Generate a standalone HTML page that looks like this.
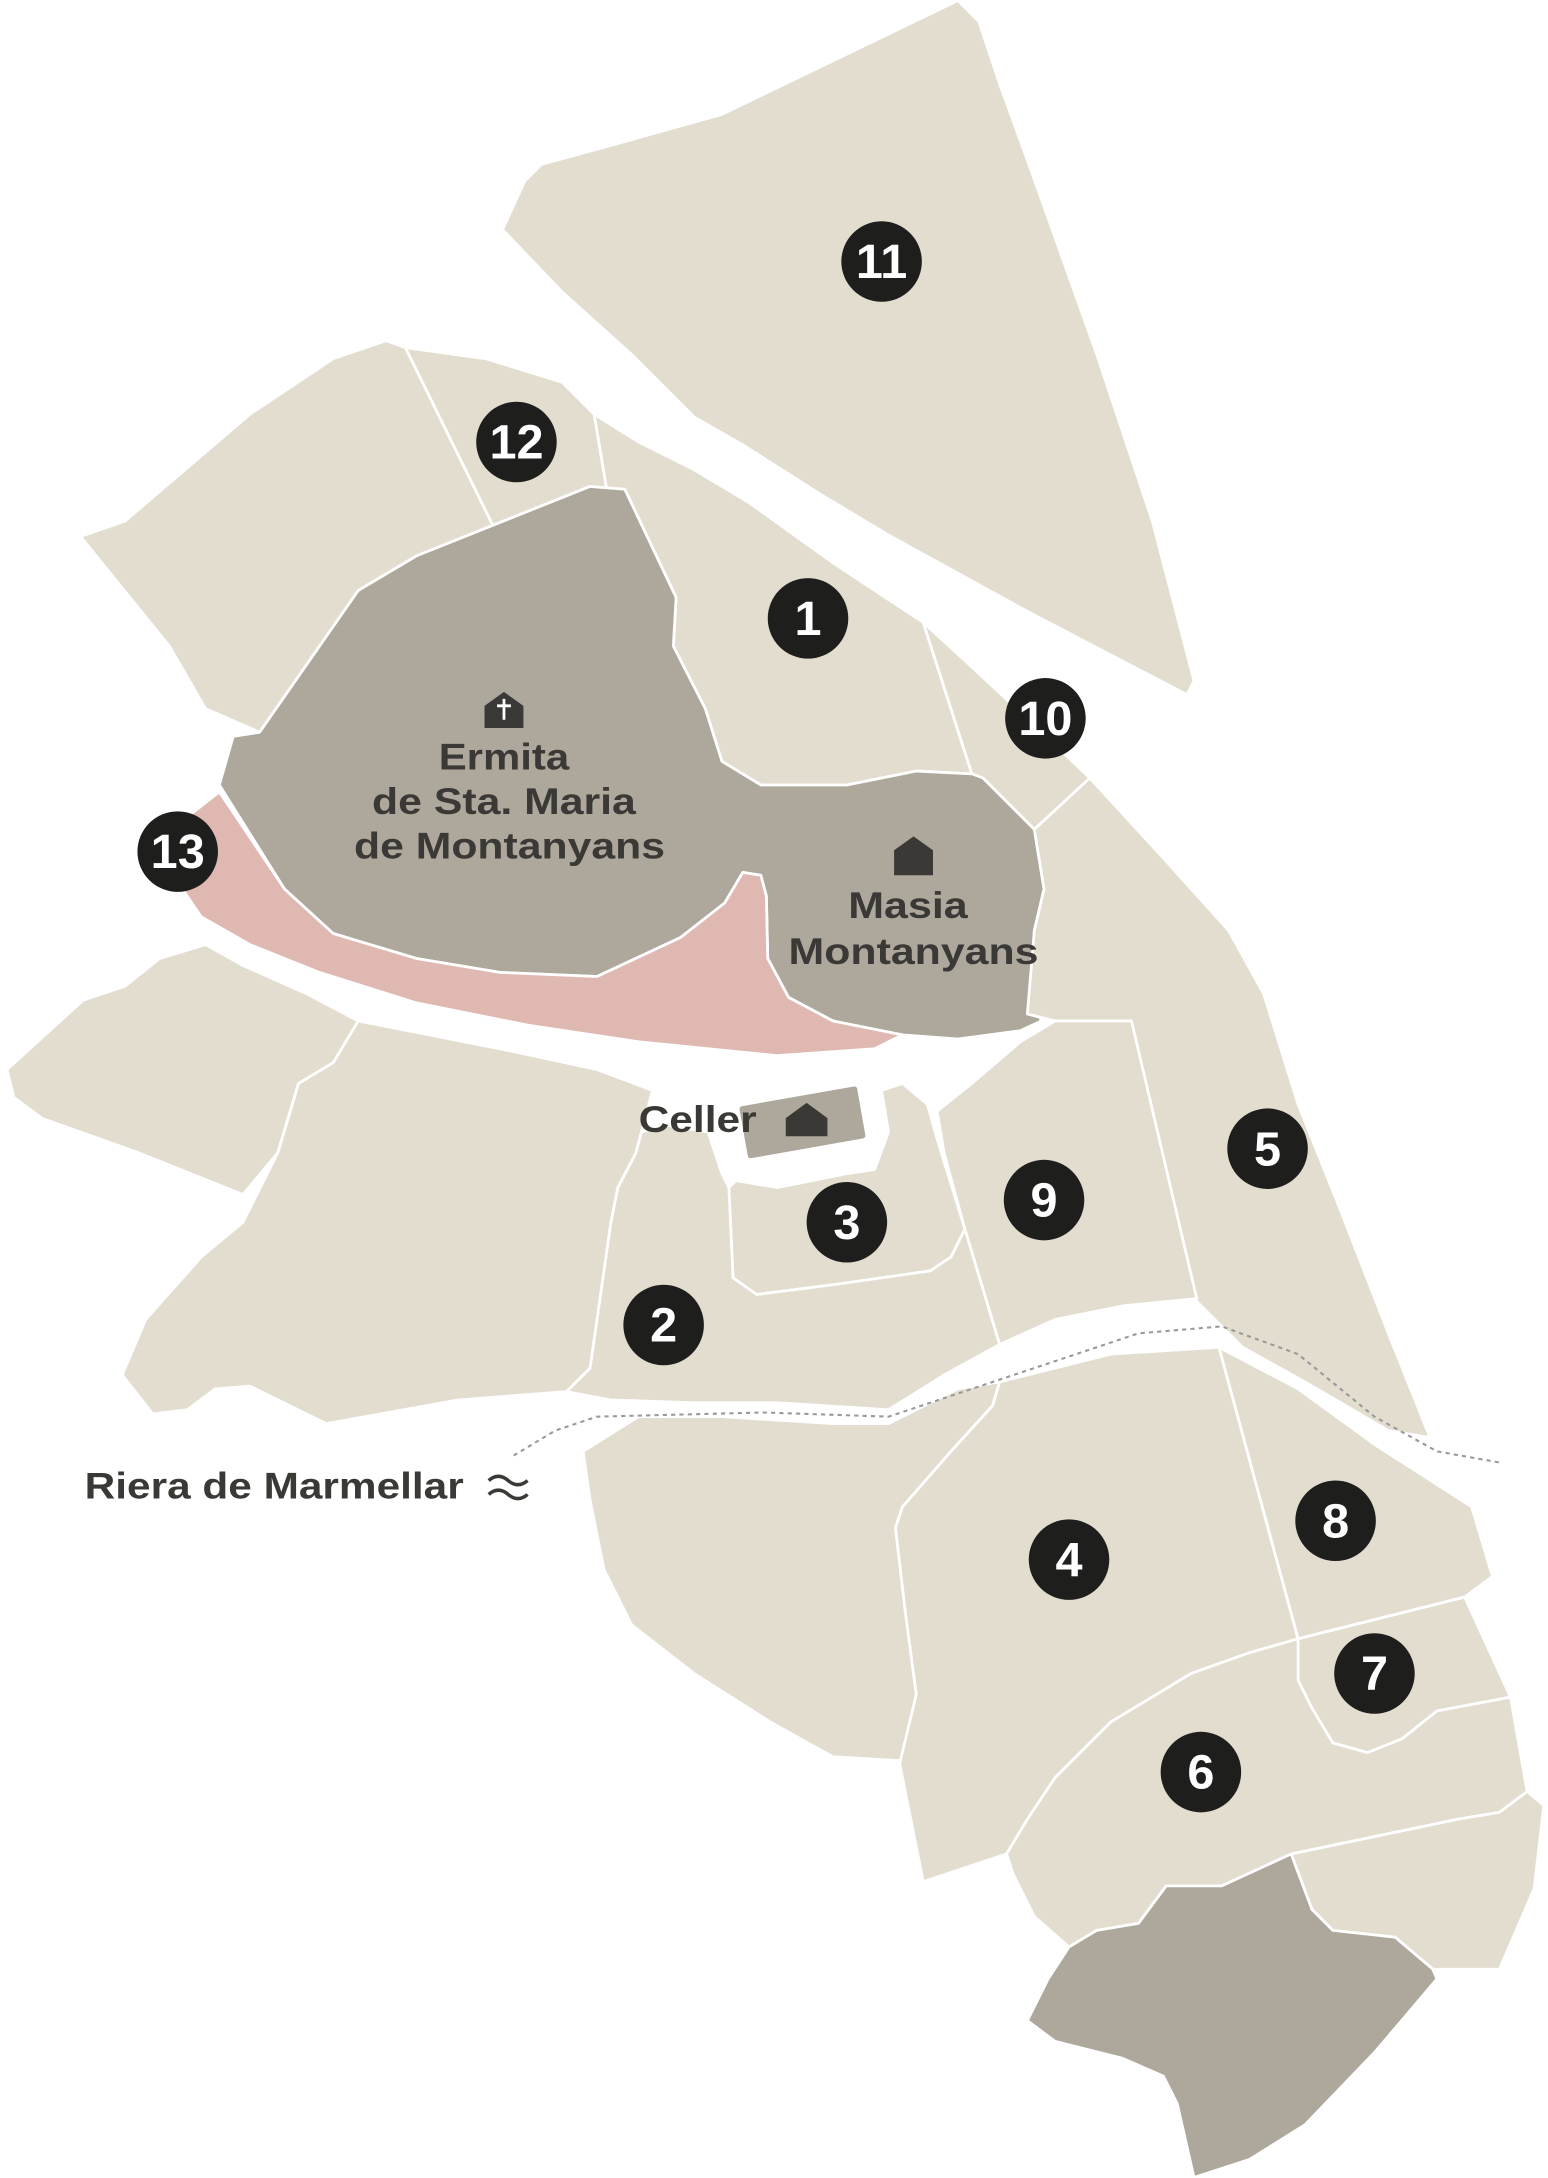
<!DOCTYPE html>
<html><head><meta charset="utf-8"><style>
html,body{margin:0;padding:0;background:#fff;}
svg{display:block}
text{font-family:"Liberation Sans",sans-serif;font-weight:bold}
</style></head><body>
<svg width="1548" height="2178" viewBox="0 0 1115 1568" xmlns="http://www.w3.org/2000/svg">
<g stroke="#fff" stroke-width="2" stroke-linejoin="round">
<polygon fill="#e3ddd0" points="362,165 378,130 390,118 445,103 520,82 690,0 705,15 720,60 740,115 765,185 790,255 830,375 860,490 855,500 740,440 640,385 590,355 535,320 500,300 455,255 405,210"/>
<polygon fill="#e3ddd0" points="58,386 90,375 180,298 240,258 278,245 292,250 355,378 300,400 258,425 187,527 148,510 122,465"/>
<polygon fill="#e3ddd0" points="292,250 350,258 405,275 428,298 437,352 425,350 355,378"/>
<polygon fill="#e3ddd0" points="428,298 460,318 500,338 540,362 600,405 665,448 700,557 660,555 610,565 548,565 520,548 508,510 485,465 487,430 450,352 437,352"/>
<polygon fill="#e3ddd0" points="665,448 700,480 745,522 785,560 745,597 708,560 700,557"/>
<polygon fill="#ada79c" points="187,527 258,425 300,400 355,378 425,350 450,352 487,430 485,465 508,510 520,548 548,565 610,565 660,555 700,557 708,560 745,597 752,640 745,670 742,715 750,735 735,742 690,748 650,745 600,735 568,718 553,690 552,645 548,630 535,628 522,650 490,675 430,703 360,700 300,690 240,672 205,640 158,565 168,530"/>
<polygon fill="#e0b8b2" points="135,588 158,570 205,640 240,672 300,690 360,700 430,703 490,675 522,650 535,628 548,630 552,645 553,690 568,718 600,735 650,745 630,755 560,760 460,750 380,738 300,722 230,700 180,680 145,660 128,635"/>
<polygon fill="#e3ddd0" points="785,560 840,620 885,670 910,715 935,795 965,870 1000,960 1030,1035 1000,1030 940,995 895,970 860,935 815,735 760,735 740,730 745,670 752,640 745,597"/>
<polygon fill="#e3ddd0" points="675,800 700,780 735,750 760,735 815,735 862,935 810,940 760,950 720,968 695,885 680,830"/>
<polygon fill="#e3ddd0" points="525,855 530,850 560,855 585,850 610,845 630,842 640,815 635,785 650,780 668,795 675,820 695,885 685,905 670,915 600,925 545,932 528,920"/>
<polygon fill="#e3ddd0" points="408,1002 425,985 440,880 445,855 458,830 462,815 480,810 510,815 520,845 525,855 528,920 545,932 600,925 670,915 685,905 695,885 720,968 680,990 640,1015 560,1010 500,1010 440,1008"/>
<polygon fill="#e3ddd0" points="88,990 105,950 145,905 175,880 200,830 215,780 240,765 258,735 360,755 430,770 470,785 462,815 458,830 445,855 440,880 425,985 408,1002 330,1008 235,1025 180,998 155,1000 135,1015 110,1018"/>
<polygon fill="#e3ddd0" points="5,770 60,720 90,710 115,690 148,680 175,695 220,715 258,735 240,765 215,780 200,830 175,860 100,830 30,805 10,790"/>
<polygon fill="#e3ddd0" points="420,1045 460,1020 520,1020 600,1025 640,1025 690,1000 720,995 715,1012 685,1045 650,1085 645,1100 652,1160 660,1220 652,1268 600,1265 555,1240 500,1205 455,1170 435,1130 425,1080"/>
<polygon fill="#e3ddd0" points="720,995 800,975 878,970 935,1180 900,1190 858,1205 800,1240 760,1280 740,1310 725,1335 665,1355 648,1270 660,1220 652,1160 645,1100 650,1085 685,1045 715,1012"/>
<polygon fill="#e3ddd0" points="878,970 935,1000 990,1040 1060,1085 1075,1135 1055,1150 935,1180"/>
<polygon fill="#e3ddd0" points="935,1180 1055,1150 1088,1222 1035,1232 1010,1252 985,1262 960,1255 945,1230 935,1210"/>
<polygon fill="#e3ddd0" points="740,1310 760,1280 800,1240 858,1205 900,1190 935,1180 935,1210 945,1230 960,1255 985,1262 1010,1252 1035,1232 1088,1222 1100,1290 1080,1305 1050,1310 930,1335 880,1358 840,1358 820,1385 790,1390 770,1402 745,1380 730,1350 725,1335"/>
<polygon fill="#e3ddd0" points="930,1335 1050,1310 1080,1305 1100,1290 1112,1300 1105,1360 1080,1418 1032,1418 1005,1395 960,1390 945,1375"/>
<polygon fill="#ada79c" points="770,1402 790,1390 820,1385 840,1358 880,1358 930,1335 945,1375 960,1390 1005,1395 1032,1418 1035,1425 990,1478 940,1530 900,1555 860,1568 848,1515 838,1495 808,1482 760,1470 740,1455 755,1425"/>
<rect x="534" y="788" width="88" height="40" rx="3" fill="#ada79c" transform="rotate(-10 578 808)"/>
</g>
<polyline fill="none" stroke="#999" stroke-width="1.5" stroke-dasharray="3,3" points="370,1048 400,1030 430,1020 550,1017 640,1020 700,1000 760,980 820,960 880,955 935,975 990,1020 1035,1045 1080,1053"/>
<g fill="#3a3936">
<path d="M349,508 L363,498 L377,508 L377,524 L349,524 Z"/>
<path d="M644,612 L658,602 L672,612 L672,630 L644,630 Z"/>
<path d="M566,805 L581,794 L596,805 L596,818 L566,818 Z"/>
</g>
<path d="M363,503 V518 M358,508 H368" stroke="#fff" stroke-width="2"/>
<g fill="#3a3936" font-size="27" lengthAdjust="spacingAndGlyphs">
<text x="316" y="554" textLength="94" lengthAdjust="spacingAndGlyphs">Ermita</text>
<text x="268" y="586" textLength="190" lengthAdjust="spacingAndGlyphs">de Sta. Maria</text>
<text x="255" y="618" textLength="224" lengthAdjust="spacingAndGlyphs">de Montanyans</text>
<text x="611" y="661" textLength="86" lengthAdjust="spacingAndGlyphs">Masia</text>
<text x="568" y="694" textLength="180" lengthAdjust="spacingAndGlyphs">Montanyans</text>
<text x="460" y="815" textLength="85" lengthAdjust="spacingAndGlyphs">Celler</text>
<text x="61" y="1079" textLength="273" lengthAdjust="spacingAndGlyphs">Riera de Marmellar</text>
</g>
<path d="M352,1066 q7,-6 14,0 t14,0 M352,1076 q7,-6 14,0 t14,0" fill="none" stroke="#3a3936" stroke-width="2.5"/>
<g font-size="35">
<g><circle cx="635" cy="188" r="29" fill="#1e1e1c"/><text x="635" y="200" fill="#fff" text-anchor="middle">11</text></g>
<g><circle cx="372" cy="318" r="29" fill="#1e1e1c"/><text x="372" y="330" fill="#fff" text-anchor="middle">12</text></g>
<g><circle cx="582" cy="445" r="29" fill="#1e1e1c"/><text x="582" y="457" fill="#fff" text-anchor="middle">1</text></g>
<g><circle cx="753" cy="517" r="29" fill="#1e1e1c"/><text x="753" y="529" fill="#fff" text-anchor="middle">10</text></g>
<g><circle cx="128" cy="613" r="29" fill="#1e1e1c"/><text x="128" y="625" fill="#fff" text-anchor="middle">13</text></g>
<g><circle cx="913" cy="827" r="29" fill="#1e1e1c"/><text x="913" y="839" fill="#fff" text-anchor="middle">5</text></g>
<g><circle cx="752" cy="864" r="29" fill="#1e1e1c"/><text x="752" y="876" fill="#fff" text-anchor="middle">9</text></g>
<g><circle cx="610" cy="880" r="29" fill="#1e1e1c"/><text x="610" y="892" fill="#fff" text-anchor="middle">3</text></g>
<g><circle cx="478" cy="954" r="29" fill="#1e1e1c"/><text x="478" y="966" fill="#fff" text-anchor="middle">2</text></g>
<g><circle cx="770" cy="1123" r="29" fill="#1e1e1c"/><text x="770" y="1135" fill="#fff" text-anchor="middle">4</text></g>
<g><circle cx="962" cy="1095" r="29" fill="#1e1e1c"/><text x="962" y="1107" fill="#fff" text-anchor="middle">8</text></g>
<g><circle cx="990" cy="1205" r="29" fill="#1e1e1c"/><text x="990" y="1217" fill="#fff" text-anchor="middle">7</text></g>
<g><circle cx="865" cy="1276" r="29" fill="#1e1e1c"/><text x="865" y="1288" fill="#fff" text-anchor="middle">6</text></g>
</g>
</svg>
</body></html>
